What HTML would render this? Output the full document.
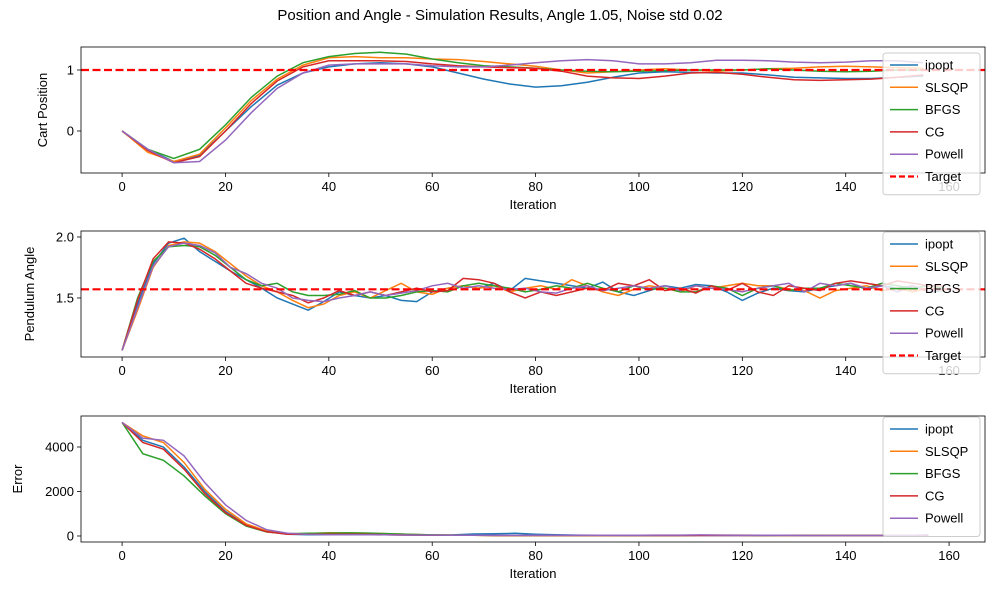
<!DOCTYPE html>
<html><head><meta charset="utf-8"><style>
body{margin:0;background:#fff;font-family:"Liberation Sans","DejaVu Sans",sans-serif}
svg text{font-family:"Liberation Sans","DejaVu Sans",sans-serif;fill:#000}
</style></head><body>
<svg id="c" width="1000" height="600" xmlns="http://www.w3.org/2000/svg">
<text x="500" y="20" text-anchor="middle" font-size="15">Position and Angle - Simulation Results, Angle 1.05, Noise std 0.02</text>
</svg>
<script>
const seriesNames=["ipopt","SLSQP","BFGS","CG","Powell"];
const colors=["#1f77b4","#ff7f0e","#2ca02c","#d62728","#9467bd"];
const xTicks=[0,20,40,60,80,100,120,140,160];
// Cart position, sampled every 5 iterations
const posStep=5;
const posIpopt=[0,-0.3,-0.5,-0.4,0,0.4,0.75,0.95,1.05,1.1,1.12,1.1,1.05,0.95,0.85,0.77,0.72,0.74,0.8,0.88,0.95,0.97,0.96,0.95,0.95,0.92,0.88,0.87,0.86,0.86,0.88,0.9];
const posSLSQP=[0,-0.35,-0.5,-0.38,0.05,0.5,0.85,1.08,1.2,1.22,1.2,1.2,1.18,1.17,1.14,1.1,1.06,1.0,0.95,0.97,1.0,1.02,1.0,0.98,1.0,1.02,1.03,1.05,1.06,1.05,1.04,1.03];
const posBFGS=[0,-0.3,-0.45,-0.3,0.1,0.55,0.9,1.12,1.22,1.27,1.29,1.26,1.18,1.12,1.07,1.05,1.03,1.0,0.98,0.97,0.98,0.99,1.0,1.0,1.0,1.02,1.0,0.98,0.97,0.98,1.0,1.0];
const posCG=[0,-0.32,-0.52,-0.42,0.0,0.45,0.82,1.05,1.15,1.15,1.15,1.14,1.1,1.07,1.05,1.04,1.03,0.98,0.9,0.87,0.86,0.9,0.95,0.96,0.93,0.88,0.84,0.83,0.84,0.85,0.88,0.92];
const posPowell=[0,-0.3,-0.52,-0.5,-0.15,0.3,0.7,0.95,1.08,1.1,1.1,1.1,1.07,1.05,1.05,1.08,1.12,1.15,1.17,1.15,1.1,1.1,1.12,1.16,1.16,1.15,1.13,1.12,1.13,1.15,1.15,1.12];
const posTarget=1.0;
const posTicks=[0,1];
// Pendulum angle, sampled every 3 iterations
const angStep=3;
const angIpopt=[1.07,1.45,1.78,1.95,1.99,1.88,1.8,1.72,1.65,1.58,1.5,1.45,1.4,1.47,1.55,1.52,1.5,1.52,1.48,1.47,1.55,1.58,1.6,1.58,1.62,1.56,1.66,1.64,1.62,1.6,1.58,1.63,1.55,1.52,1.56,1.6,1.58,1.61,1.6,1.55,1.48,1.54,1.58,1.56,1.55,1.58,1.6,1.62,1.57,1.6,1.58,1.6,1.55,1.56];
const angSLSQP=[1.07,1.4,1.75,1.93,1.96,1.95,1.88,1.78,1.68,1.6,1.55,1.48,1.42,1.45,1.52,1.55,1.5,1.56,1.62,1.55,1.53,1.58,1.6,1.58,1.6,1.55,1.58,1.6,1.57,1.65,1.6,1.55,1.52,1.57,1.6,1.58,1.55,1.6,1.58,1.6,1.62,1.6,1.6,1.57,1.56,1.5,1.56,1.58,1.6,1.56,1.58,1.55,1.58,1.56];
const angBFGS=[1.07,1.5,1.8,1.92,1.93,1.92,1.85,1.75,1.65,1.6,1.62,1.55,1.52,1.52,1.53,1.56,1.5,1.5,1.52,1.55,1.56,1.55,1.6,1.62,1.6,1.58,1.55,1.57,1.6,1.58,1.62,1.58,1.55,1.6,1.57,1.58,1.55,1.55,1.6,1.58,1.52,1.58,1.6,1.56,1.58,1.58,1.62,1.6,1.58,1.62,1.6,1.58,1.6,1.58];
const angCG=[1.07,1.48,1.82,1.96,1.95,1.9,1.82,1.72,1.62,1.58,1.55,1.52,1.46,1.5,1.56,1.52,1.55,1.52,1.55,1.58,1.55,1.56,1.66,1.65,1.62,1.55,1.5,1.55,1.52,1.55,1.58,1.56,1.62,1.6,1.65,1.56,1.58,1.54,1.6,1.56,1.62,1.55,1.52,1.6,1.58,1.56,1.62,1.64,1.62,1.6,1.64,1.62,1.6,1.6];
const angPowell=[1.07,1.42,1.76,1.92,1.95,1.93,1.87,1.75,1.7,1.62,1.58,1.5,1.48,1.47,1.5,1.52,1.55,1.52,1.54,1.56,1.6,1.62,1.58,1.6,1.58,1.57,1.58,1.55,1.54,1.58,1.6,1.56,1.58,1.6,1.58,1.6,1.56,1.6,1.58,1.57,1.55,1.58,1.6,1.62,1.55,1.62,1.6,1.62,1.58,1.6,1.55,1.6,1.55,1.58];
const angTarget=1.5708;
const angTicks=[1.5,2.0];
// Error, sampled every 4 iterations
const errStep=4;
const errIpopt=[5100,4300,4000,3100,2000,1100,500,200,80,60,60,60,70,60,50,40,50,90,100,120,80,60,40,30,20,20,20,20,20,20,20,20,30,30,20,20,20,20,20,20];
const errSLSQP=[5100,4500,4200,3300,2100,1200,550,220,100,110,150,140,120,100,70,50,40,30,20,20,20,20,20,20,20,20,20,20,30,40,40,30,30,20,20,20,20,20,20,20];
const errBFGS=[5100,3700,3400,2700,1800,1000,450,180,100,120,130,140,130,100,70,50,40,30,20,20,20,20,20,20,20,20,20,20,30,30,30,20,20,20,20,20,20,20,20,20];
const errCG=[5100,4200,3900,3000,1900,1050,480,190,80,80,80,80,70,50,40,30,30,30,20,20,20,20,20,20,20,20,20,20,20,20,20,20,20,20,20,20,20,20,20,20];
const errPowell=[5100,4400,4300,3600,2400,1400,700,280,120,70,60,60,60,50,40,40,30,30,30,30,30,30,30,30,30,30,40,40,50,40,30,30,30,20,20,20,20,20,20,60];
const errTicks=[0,2000,4000];

const svg=document.getElementById('c');
const NS="http://www.w3.org/2000/svg";
function mk(tag,attrs,parent){const e=document.createElementNS(NS,tag);for(const k in attrs)e.setAttribute(k,attrs[k]);(parent||svg).appendChild(e);return e;}
const X0=81,X1=985,xmin=-7.95,xmax=166.95;
const sx=v=>X0+(v-xmin)/(xmax-xmin)*(X1-X0);

function panel(key,top,bot,ymin,ymax,series,step,ticks,fmt,ylabel,ylx,target,legendTop){
  const sy=v=>bot-(v-ymin)/(ymax-ymin)*(bot-top);
  const g=mk('g',{});
  
  
  series.forEach((arr,si)=>{
    let d='';
    arr.forEach((v,i)=>{const x=Math.min(i*step,159);d+=(i?'L':'M')+sx(x).toFixed(1)+','+sy(v).toFixed(1);});
    const p=mk('path',{d:d,fill:'none',stroke:colors[si],'stroke-width':1.5},g);
    
    
  });
  if(target!==null){
    const t=mk('line',{x1:X0,x2:X1,y1:sy(target),y2:sy(target),stroke:'#ff0000','stroke-width':2.2,'stroke-dasharray':'8,3.5'},g);
    
    
  }
  const fr=mk('rect',{x:X0,y:top,width:X1-X0,height:bot-top,fill:'none',stroke:'#000','stroke-width':0.8},g);
  
  
  xTicks.forEach(t=>{
    mk('line',{x1:sx(t),x2:sx(t),y1:bot,y2:bot+4,stroke:'#000','stroke-width':0.8},g);
    const tx=mk('text',{x:sx(t),y:bot+18,'text-anchor':'middle','font-size':13},g);
    tx.textContent=t;
    
    
  });
  ticks.forEach(t=>{
    mk('line',{x1:X0-4,x2:X0,y1:sy(t),y2:sy(t),stroke:'#000','stroke-width':0.8},g);
    const tx=mk('text',{x:X0-7,y:sy(t)+4.5,'text-anchor':'end','font-size':13},g);
    tx.textContent=fmt(t);
    
    
  });
  const xl=mk('text',{x:(X0+X1)/2,y:bot+36,'text-anchor':'middle','font-size':13},g);
  xl.textContent='Iteration';
  
  
  const cy=(top+bot)/2;
  const yl=mk('text',{x:ylx,y:cy,'text-anchor':'middle','font-size':13,transform:'rotate(-90 '+ylx+' '+cy+')'},g);
  yl.textContent=ylabel;
  
  
  const names=seriesNames.slice();const cols=colors.slice();
  if(target!==null){names.push('Target');cols.push('#ff0000');}
  const lg=mk('g',{},g);
  
  
  const h=names.length*22.3+8;
  mk('rect',{x:883,y:legendTop,width:97,height:h,rx:3,fill:'#fff','fill-opacity':0.8,stroke:'#ccc','stroke-width':1},lg);
  names.forEach((n,i)=>{
    const y=legendTop+12+i*22.3;
    const e=mk('g',{},lg);
    
    
    const a={x1:890,x2:918,y1:y,y2:y,stroke:cols[i],'stroke-width':n==='Target'?2.2:1.5};
    if(n==='Target')a['stroke-dasharray']='6,3';
    mk('line',a,e);
    const tx=mk('text',{x:925,y:y+4.5,'font-size':13},e);
    tx.textContent=n;
  });
}
panel('position',47,173,-0.689,1.377,[posIpopt,posSLSQP,posBFGS,posCG,posPowell],posStep,posTicks,v=>v.toFixed(0),'Cart Position',47,posTarget,53);
panel('angle',231,357,1.016,2.049,[angIpopt,angSLSQP,angBFGS,angCG,angPowell],angStep,angTicks,v=>v.toFixed(1),'Pendulum Angle',34,angTarget,232);
panel('error',416,542,-270,5393,[errIpopt,errSLSQP,errBFGS,errCG,errPowell],errStep,errTicks,v=>v.toFixed(0),'Error',22,null,417);
</script>
</body></html>
